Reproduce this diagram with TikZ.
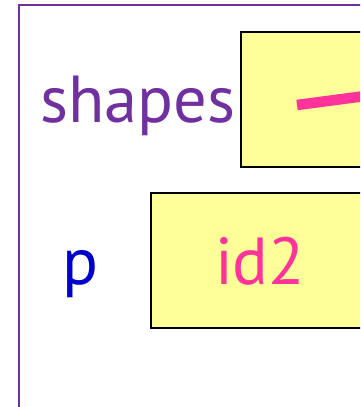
\documentclass[tikz,border=0pt]{standalone}
\usepackage{fontspec}
\setmainfont{PT Sans}
\definecolor{framepurple}{HTML}{7030A0}
\definecolor{cellyellow}{HTML}{FFFF99}
\definecolor{refpink}{HTML}{FF3399}
\definecolor{varblue}{HTML}{0000CC}
\tikzset{
  frame/.style={draw=framepurple, line width=1.6pt},
  cell/.style={draw=black, fill=cellyellow, line width=2pt, inner sep=0pt, anchor=north west},
  varname/.style={inner sep=0pt, anchor=base west, font=\fontsize{66.5}{67}\selectfont},
  cellvalue/.style={inner sep=0pt, font=\fontsize{66.5}{67}\selectfont, text=refpink},
  pointer/.style={draw=refpink, line width=10.5pt}
}
\begin{document}
\begin{tikzpicture}[x=1pt,y=-1pt]
  \useasboundingbox (0,0) rectangle (360,407);
  \clip (0,0) rectangle (360,407);
  % enclosing frame
  \draw[frame] (19,5) rectangle (520,560);
  % variable "shapes" and its cell
  \node[cell, minimum width=240pt, minimum height=135pt] (shapesbox) at (240,31) {};
  \coordinate (shapestail) at (297,105);
  \coordinate (shapeshead) at (460,83.5);
  \draw[pointer] (shapestail) -- (shapeshead);
  \node[varname, text=framepurple] (shapeslabel) at (40,122) {shapes};
  % variable "p" and its cell
  \node[cell, minimum width=220pt, minimum height=135pt] (pbox) at (150,192) {};
  \node[cellvalue, anchor=base] (pvalue) at (260,284) {id2};
  \node[varname, text=varblue] (plabel) at (62,284) {p};
\end{tikzpicture}
\end{document}
